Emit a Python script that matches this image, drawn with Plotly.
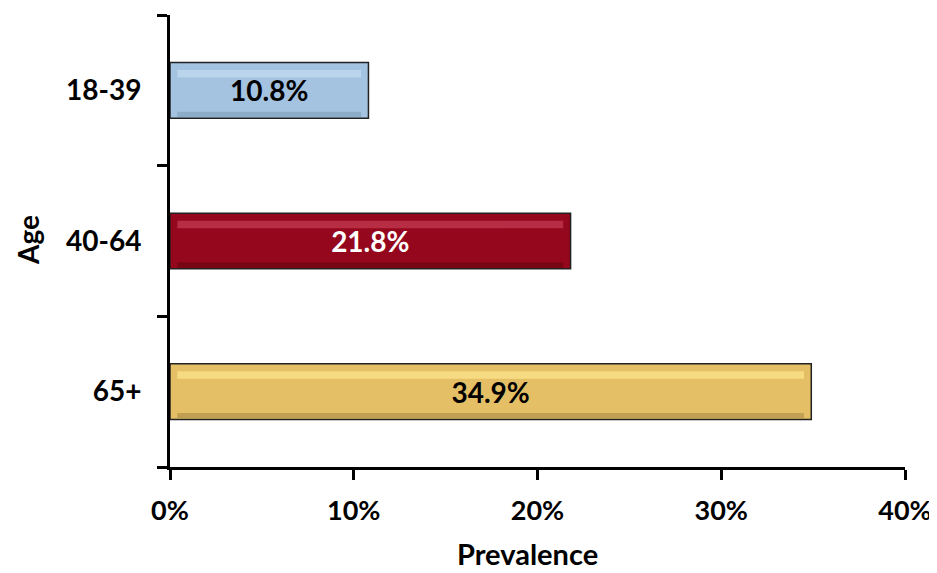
import plotly.graph_objects as go

categories = ["18-39", "40-64", "65+"]
values = [0.108, 0.218, 0.349]
labels = ["10.8%", "21.8%", "34.9%"]
colors = ["#A3C3E0", "#94071D", "#E5BF66"]
highlight_colors = ["#C2DAF0", "#C23A52", "#FBE48C"]
shadow_colors = ["#7F9CB8", "#64040F", "#A98B48"]
text_colors = ["black", "white", "black"]

font_family = "Lato, 'Open Sans', sans-serif"
fs = 28

# the page body has an 8px margin, so the figure is sized to fit the window
W, H = 929, 565
ML, MR, MT, MB = 162, 32, 7, 106
plot_w = W - ML - MR
plot_h = H - MT - MB

BAR_W = 0.37
inset = 0.004

fig = go.Figure()
# main bars
fig.add_trace(go.Bar(
    y=categories, x=values, orientation="h", width=BAR_W,
    marker=dict(color=colors, line=dict(color="#222222", width=1.5)),
    hoverinfo="skip",
))
# bevel: light band near the top
fig.add_trace(go.Bar(
    y=categories, x=[v - 2 * inset for v in values], base=inset,
    orientation="h", width=0.05, offset=0.085,
    marker=dict(color=highlight_colors, line=dict(width=0)), opacity=0.75,
    hoverinfo="skip",
))
# bevel: dark band at the bottom
fig.add_trace(go.Bar(
    y=categories, x=[v - 2 * inset for v in values], base=inset,
    orientation="h", width=0.035, offset=-BAR_W / 2 + 0.008,
    marker=dict(color=shadow_colors, line=dict(width=0)), opacity=0.6,
    hoverinfo="skip",
))
# labels on top
fig.add_trace(go.Bar(
    y=categories, x=values, orientation="h", width=BAR_W,
    marker=dict(color="rgba(0,0,0,0)", line=dict(width=0)),
    text=labels, texttemplate="<b>%{text}</b>",
    textposition="inside", insidetextanchor="middle",
    textfont=dict(family=font_family, size=fs, color=text_colors),
    hoverinfo="skip",
))

fig.update_layout(
    width=W, height=H,
    margin=dict(l=ML, r=MR, t=MT, b=MB, autoexpand=False),
    plot_bgcolor="white", paper_bgcolor="white",
    barmode="overlay",
    showlegend=False,
    font=dict(family=font_family, size=fs, color="black"),
    annotations=[
        dict(text="<b>Prevalence</b>", xref="paper", yref="paper",
             x=(527 - 8 - ML) / plot_w, y=(H - MB - (553 - 8)) / plot_h,
             xanchor="center", yanchor="middle",
             showarrow=False, font=dict(family=font_family, size=29)),
        dict(text="<b>Age</b>", xref="paper", yref="paper",
             x=(28 - 8 - ML) / plot_w, y=(H - MB - (240 - 8)) / plot_h,
             xanchor="center", yanchor="middle", textangle=-90,
             showarrow=False, font=dict(family=font_family, size=fs)),
    ],
)

fig.update_xaxes(
    range=[0, 0.4], tickformat=".0%", dtick=0.1,
    showgrid=False, zeroline=False, automargin=False,
    showline=True, linecolor="black", linewidth=3,
    ticks="outside", ticklen=10, tickwidth=3, tickcolor="black",
    tickfont=dict(family=font_family, size=27, color="black"),
    tickprefix="<b>", ticksuffix="</b>",
    ticklabelstandoff=8,
)
fig.update_yaxes(
    categoryorder="array", categoryarray=categories[::-1],
    showgrid=False, zeroline=False, automargin=False,
    showline=True, linecolor="black", linewidth=3,
    ticks="outside", ticklen=10, tickwidth=3, tickcolor="black",
    tickson="boundaries",
    tickfont=dict(family=font_family, size=fs, color="black"),
    tickprefix="<b>", ticksuffix="</b>",
    ticklabelstandoff=20,
)

fig.write_html("out.html")
